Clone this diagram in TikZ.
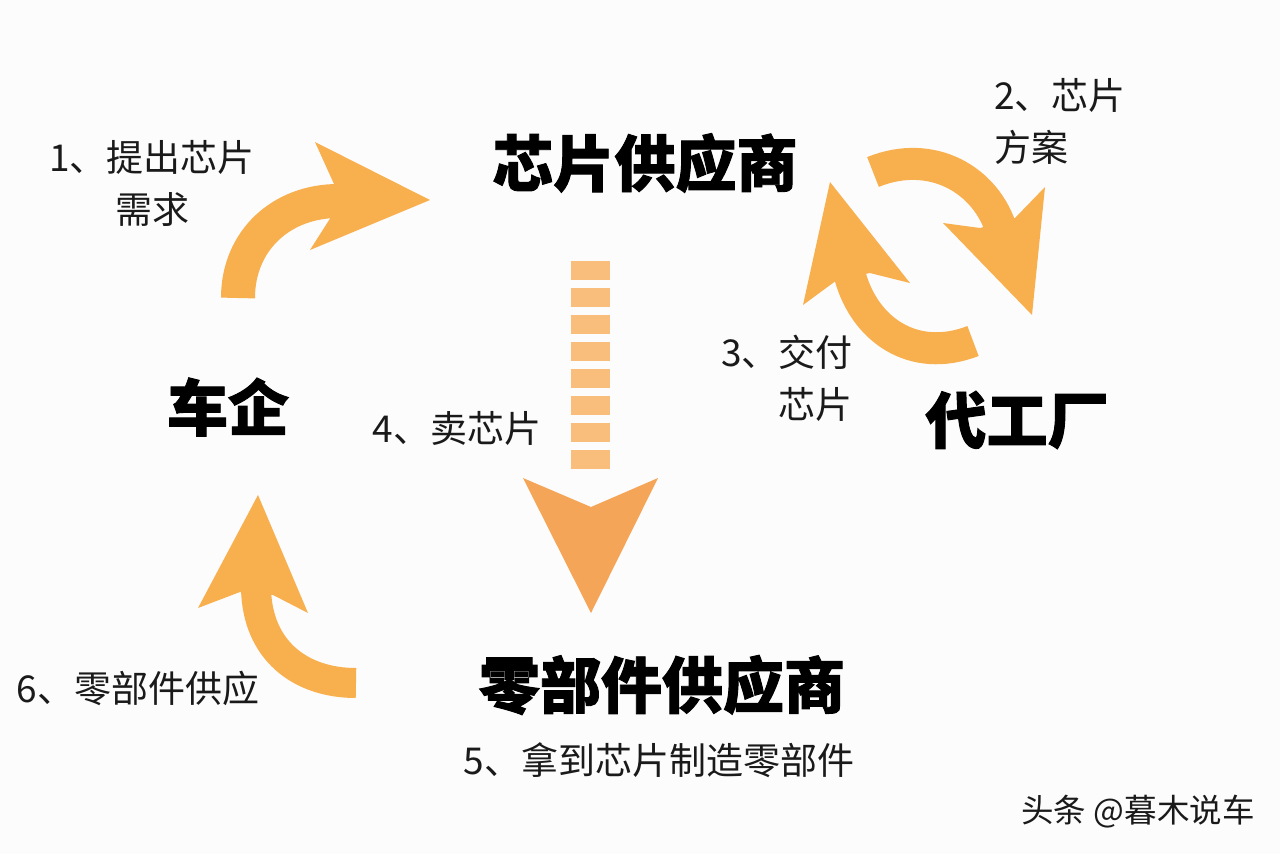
\documentclass[tikz,border=0pt]{standalone}
\usepackage{fontspec}
\setmainfont{Noto Sans CJK SC}[BoldFeatures={FakeBold=1.5}]
\definecolor{bgc}{RGB}{252,252,253}
\definecolor{arrowc}{RGB}{248,176,78}
\definecolor{barc}{RGB}{250,190,124}
\definecolor{downc}{RGB}{245,165,88}
\definecolor{txt}{RGB}{26,26,26}
\begin{document}
\begin{tikzpicture}[x=1pt,y=-1pt,
  big/.style={font=\fontsize{61}{70}\selectfont\bfseries, inner sep=0pt, text=black},
  lab/.style={font=\fontsize{37}{52}\selectfont, inner sep=0pt, text=txt},
  wmark/.style={font=\fontsize{32.5}{36}\selectfont, inner sep=0pt, text=txt},
  shaft/.style={draw=arrowc, line cap=butt},
  headc/.style={fill=arrowc}]
\fill[bgc] (0,0) rectangle (1280,854);
\useasboundingbox (0,0) rectangle (1280,854);

% titles
\node[big] (sup) at (645,163) {芯片供应商};
\node[big] (oem) at (228,407) {车企};
\node[big] (fab) at (1017,420) {代工厂};
\node[big] (parts) at (662,685) {零部件供应商};

% labels
\node[lab, align=center] (l1) at (152,183) {1、提出芯片\\需求};
\node[lab, align=left] (l2) at (1060,121) {2、芯片\\方案};
\node[lab, align=right] (l3) at (787,378) {3、交付\\芯片};
\node[lab] (l4) at (457,428) {4、卖芯片};
\node[lab] (l5) at (659,760) {5、拿到芯片制造零部件};
\node[lab] (l6) at (138,688) {6、零部件供应};
\node[wmark] (wm) at (1138,812) {头条 @暮木说车};

% arrow 1 (car maker -> chip supplier)
\draw[shaft, line width=34pt] (238,298) .. controls (238,240) and (282,201) .. (338,201);
\fill[headc] (315,142) -- (430,200) -- (310,250) -- (331,217) -- (334,184) -- cycle;

% arrow 2 (chip supplier -> foundry)
\draw[shaft, line width=32pt] (873,172) .. controls (932,148) and (987,180) .. (1002,232);
\fill[headc] (1045,187) -- (1032,315) -- (943,223) -- (980,228) -- (1015,218) -- cycle;

% arrow 3 (foundry -> chip supplier)
\draw[shaft, line width=32pt] (973,341) .. controls (914,364) and (863,330) .. (849,272);
\fill[headc] (803,305) -- (830,182) -- (910,283) -- (870,273) -- (837,280) -- cycle;

% arrow 4 (dashed down arrow)
\foreach \i in {0,...,7}
  \fill[barc] (571,{261+27*\i}) rectangle (610,{280+27*\i});
\fill[downc] (523,478) -- (591,507) -- (658,478) -- (591,613) -- cycle;

% arrow 6 (parts supplier -> car maker)
\draw[shaft, line width=30pt] (356,683) .. controls (300,683) and (257,650) .. (256,588);
\fill[headc] (258,495) -- (308,613) -- (273,595) -- (240,592) -- (198,608) -- cycle;
\end{tikzpicture}
\end{document}
